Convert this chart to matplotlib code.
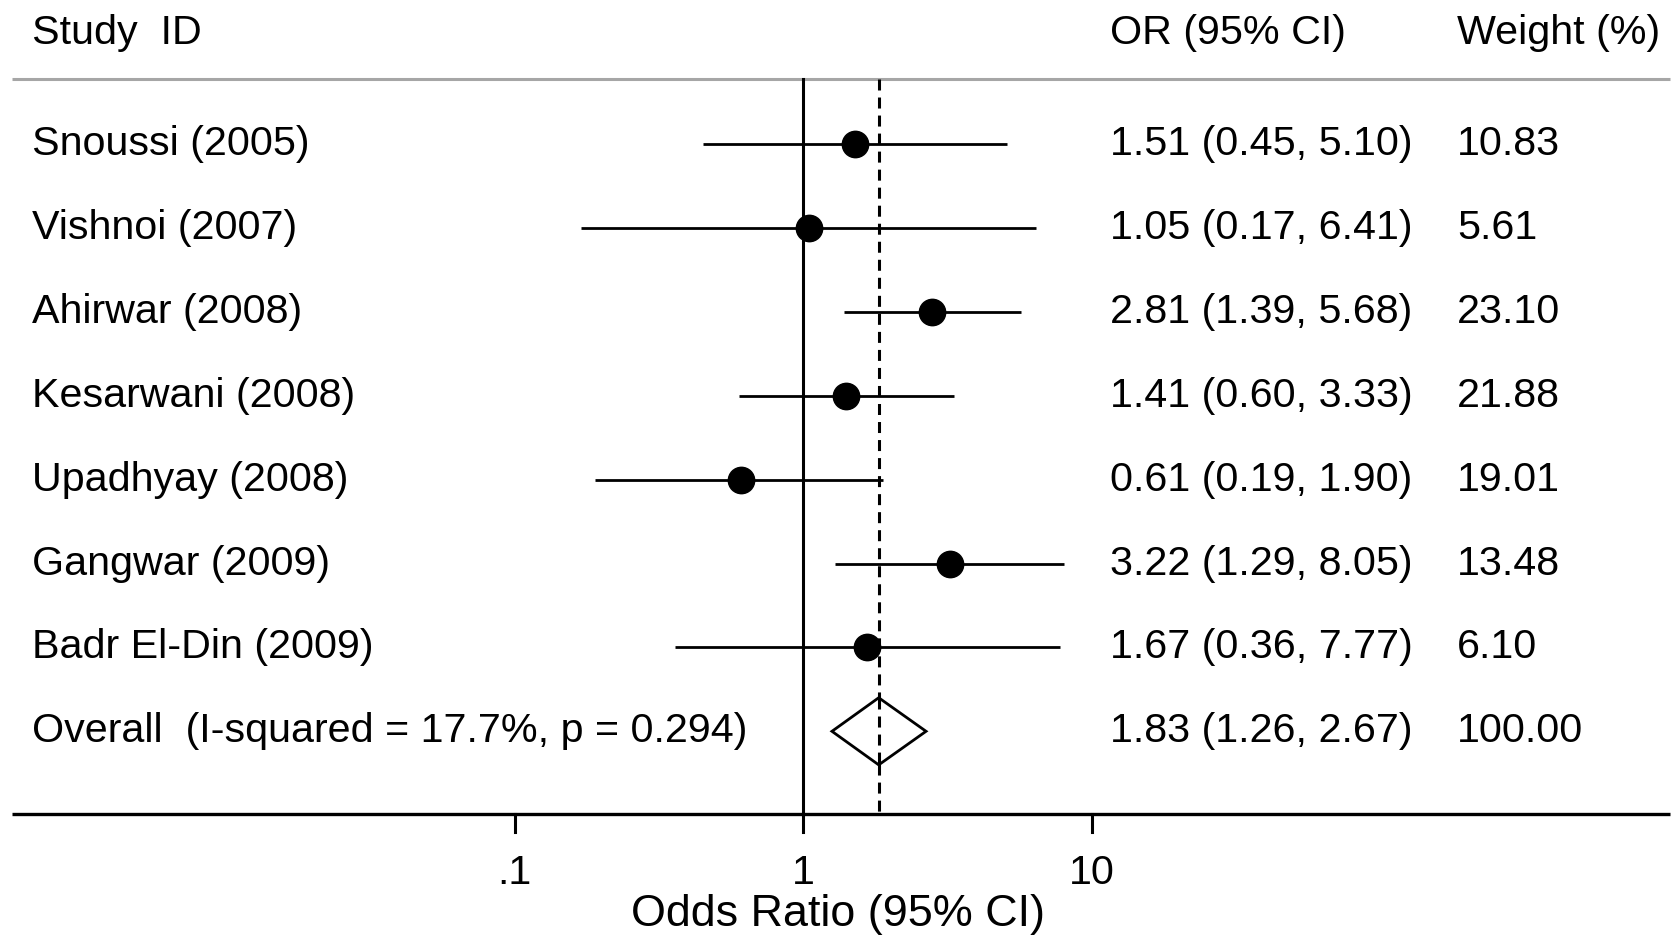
import numpy as np
import matplotlib
matplotlib.use("Agg")
import matplotlib.pyplot as plt

# data
studies = ['Snoussi (2005)', 'Vishnoi (2007)', 'Ahirwar (2008)', 'Kesarwani (2008)',
           'Upadhyay (2008)', 'Gangwar (2009)', 'Badr El-Din (2009)']
odds = [1.51, 1.05, 2.81, 1.41, 0.61, 3.22, 1.67]
lower = [0.45, 0.17, 1.39, 0.60, 0.19, 1.29, 0.36]
upper = [5.10, 6.41, 5.68, 3.33, 1.90, 8.05, 7.77]
weights = ['10.83', '5.61', '23.10', '21.88', '19.01', '13.48', '6.10']

overall_label = 'Overall  (I-squared = 17.7%, p = 0.294)'
overall_or = 1.83
overall_lo = 1.26
overall_hi = 2.67
overall_weight = '100.00'

tick_vals = [0.1, 1, 10]
tick_labels = ['.1', '1', '10']

plt.rcParams['font.family'] = ['Liberation Sans', 'DejaVu Sans']

W, H = 1677, 947
fig = plt.figure(figsize=(W / 100, H / 100), dpi=100)
ax = fig.add_axes([0, 0, 1, 1])
ax.set_xscale('log')

# pixel layout: OR=1 at x=803 px, one decade = 288.5 px; row 0 at y=144 px, step 83.9 px
x1, dec = 803, 288.5
ax.set_xlim(10 ** (-x1 / dec), 10 ** ((W - x1) / dec))
y0, step = 144, 83.9
ax.set_ylim((H - y0) / step, -y0 / step)
ax.axis('off')

def xpix(px):
    return 10 ** ((px - x1) / dec)

fs = 29.7
n = len(studies)
rows = np.arange(n)
y_head = -1.32
y_gray = -0.77
y_axis = 7.99
x_lab, x_or, x_wt = xpix(32), xpix(1110), xpix(1457)
dash = (0, (3.6, 2.3))

# header
ax.text(x_lab, y_head, 'Study  ID', fontsize=fs, va='center', ha='left')
ax.text(x_or, y_head, 'OR (95% CI)', fontsize=fs, va='center', ha='left')
ax.text(x_wt, y_head, 'Weight (%)', fontsize=fs, va='center', ha='left')
ax.plot([xpix(12), xpix(1670)], [y_gray, y_gray], color='#a6a6a6', lw=2.2, solid_capstyle='butt')

# reference lines
ax.plot([1, 1], [y_gray, y_axis], color='black', lw=2.2)
ax.plot([overall_or, overall_or], [y_gray, y_axis], color='black', lw=2.2, linestyle=dash)

# studies
for i in rows:
    ax.plot([lower[i], upper[i]], [i, i], color='black', lw=2.0, solid_capstyle='butt')
    ax.plot(odds[i], i, 'o', color='black', markersize=19)
    ax.text(x_lab, i, studies[i], fontsize=fs, va='center', ha='left')
    ax.text(x_or, i, '%.2f (%.2f, %.2f)' % (odds[i], lower[i], upper[i]),
            fontsize=fs, va='center', ha='left')
    ax.text(x_wt, i, weights[i], fontsize=fs, va='center', ha='left')

# overall diamond
yo = n
dh = 0.40
ax.fill([overall_lo, overall_or, overall_hi, overall_or, overall_lo],
        [yo, yo - dh, yo, yo + dh, yo], facecolor='white', edgecolor='black', lw=2.0, zorder=3)
ax.plot([overall_or, overall_or], [yo - dh, yo + dh], color='black', lw=2.2,
        linestyle=dash, zorder=4)
ax.text(x_lab, yo, overall_label, fontsize=fs, va='center', ha='left')
ax.text(x_or, yo, '%.2f (%.2f, %.2f)' % (overall_or, overall_lo, overall_hi),
        fontsize=fs, va='center', ha='left')
ax.text(x_wt, yo, overall_weight, fontsize=fs, va='center', ha='left')

# x axis
ax.plot([xpix(12), xpix(1670)], [y_axis, y_axis], color='black', lw=2.4, solid_capstyle='butt')
for v, lab in zip(tick_vals, tick_labels):
    ax.plot([v, v], [y_axis, y_axis + 0.21], color='black', lw=2.2)
    ax.text(v, 8.69, lab, fontsize=fs, va='center', ha='center')
ax.text(xpix(838), 9.18, 'Odds Ratio (95% CI)', fontsize=32.3, va='center', ha='center')

fig.savefig('out.png', dpi=100, facecolor='white')
